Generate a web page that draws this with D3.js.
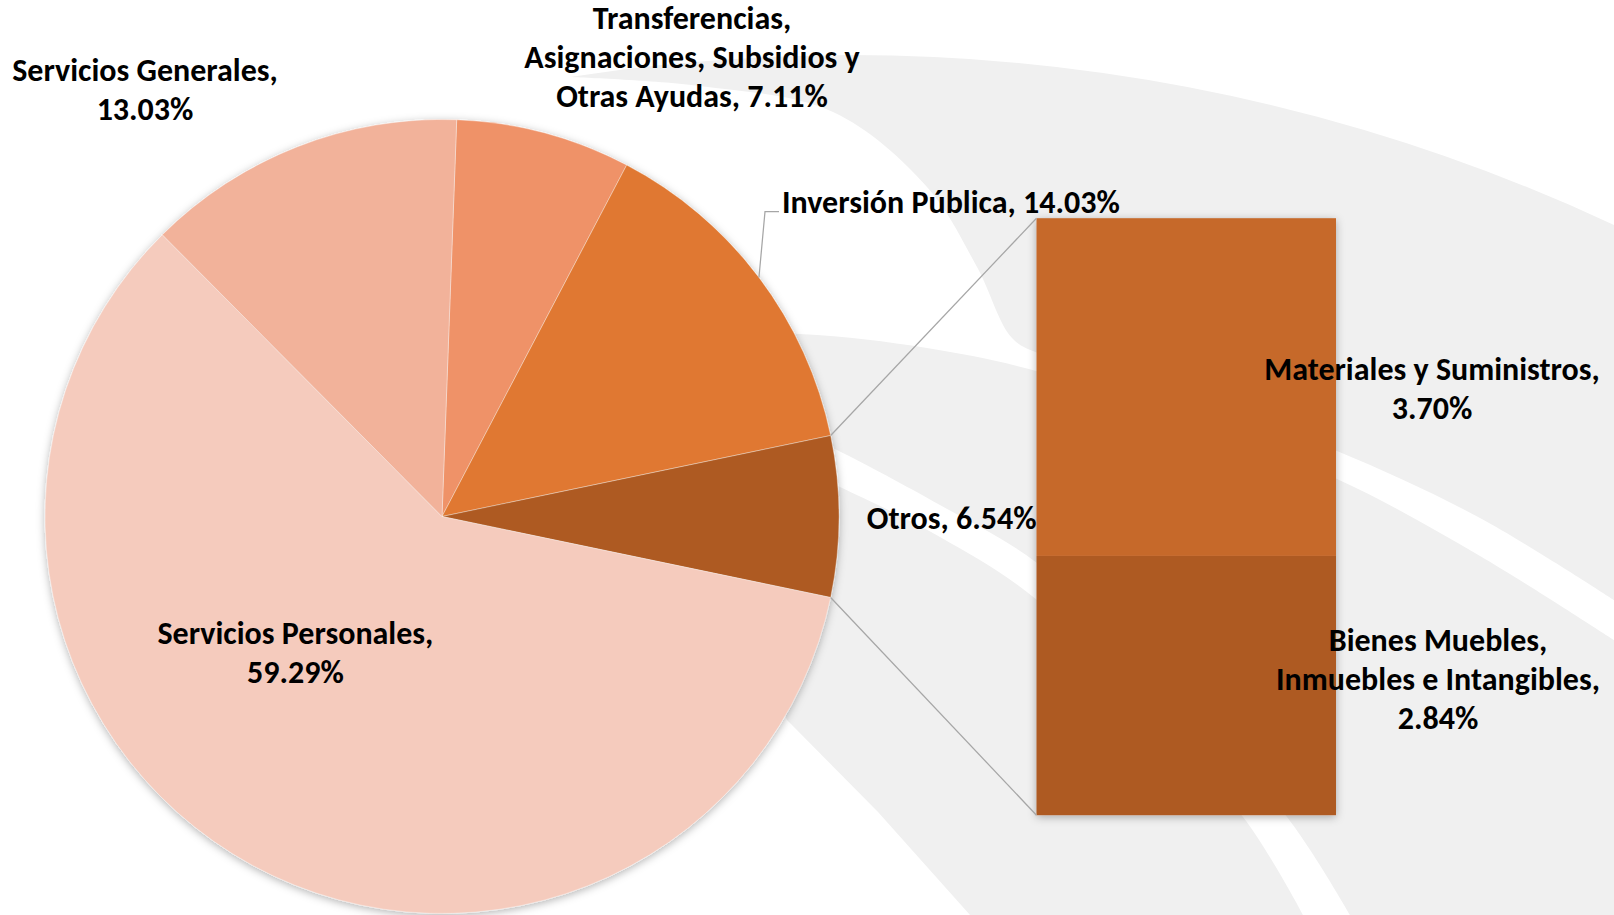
<!DOCTYPE html>
<html>
<head>
<meta charset="utf-8">
<script src="https://cdn.jsdelivr.net/npm/d3@7/dist/d3.min.js"></script>
<style>
    body { margin: 0; background: #fff; }
    .label { font-family: Calibri, Carlito, Lato, sans-serif; font-weight: bold; font-size: 32px; fill: #000; }
</style>
</head>
<body>
<div id="chart-area"></div>
<script>
// pie slices, clockwise from the top; "Otros" is broken down in the bar
var pieCategories = ["Transferencias, Asignaciones, Subsidios y Otras Ayudas", "Inversión Pública", "Otros",
    "Servicios Personales", "Servicios Generales"];
var pieValues = [7.11, 14.03, 6.54, 59.29, 13.03];
var pieColors = ["#EF9268", "#E07830", "#AE5A21", "#F5CBBD", "#F2B29A"];

// bar of "Otros", bottom to top
var barCategories = ["Bienes Muebles, Inmuebles e Intangibles", "Materiales y Suministros"];
var barValues = [2.84, 3.70];
var barColors = ["#AE5A21", "#C6692A"];

var width = 1614, height = 915;

// layout of the two plots and their labels
var pieCenter = {x: 442, y: 516.5}, pieRadius = 397;
var barBox = {x0: 1036.5, x1: 1336, top: 218.2, bottom: 815.2};
var lineHeight = 39;
var pieLabelPos = [
    {x: 692, y: 18, anchor: "middle", wrap: 360},
    {x: 782, y: 201.7, anchor: "start", wrap: 600},
    {x: 1036.5, y: 517.7, anchor: "end", wrap: 600},
    {x: 295.4, y: 633, anchor: "middle", wrap: 300},
    {x: 145, y: 70, anchor: "middle", wrap: 290}
];
var barLabelPos = [
    {x: 1438, y: 640.2, anchor: "middle", wrap: 345},
    {x: 1432, y: 368.5, anchor: "middle", wrap: 360}
];

var svg = d3.select("#chart-area").append("svg")
    .attr("width", width)
    .attr("height", height);

var defs = svg.append("defs");
defs.append("filter")
    .attr("id", "shadow")
    .attr("x", "-10%").attr("y", "-10%")
    .attr("width", "120%").attr("height", "120%")
    .append("feDropShadow")
    .attr("dx", 0).attr("dy", 2)
    .attr("stdDeviation", 4)
    .attr("flood-color", "#000")
    .attr("flood-opacity", 0.3);

// background swoosh of the slide
var bg = svg.append("g").attr("class", "background");
var curve = d3.line().curve(d3.curveCatmullRom.alpha(0.5));
function joined(a, b) {
    return curve(a) + "L" + curve(b).slice(1) + "Z";
}

bg.append("path")
    .attr("fill", "#F0F0F0")
    .attr("d", "M570,77 A1802,1802 0 0 1 1614,225 L1614,915 L970,915 " +
        "L878,812 L787,720 L700,500 L620,250 Z");

bg.append("path")
    .attr("fill", "#fff")
    .attr("d", joined(
        [[570, 77], [700, 86], [833, 112], [927, 187], [977, 267], [1012, 338], [1040, 354],
            [1200, 402], [1337, 451], [1480, 518], [1614, 600]],
        [[1614, 640], [1480, 556], [1337, 479], [1200, 428], [1040, 372], [927, 348], [800, 334],
            [600, 334], [480, 200], [480, 40]]));

bg.append("path")
    .attr("fill", "#fff")
    .attr("d", joined(
        [[790, 428], [837, 450], [940, 505], [1037, 563], [1160, 680], [1287, 817], [1350, 915]],
        [[1303, 915], [1243, 817], [1130, 700], [1037, 600], [940, 537], [840, 487], [790, 465]]));

// pie
var otrosShare = (pieValues[0] + pieValues[1] + pieValues[2] / 2) / d3.sum(pieValues);
var startAngle = Math.PI / 2 - otrosShare * 2 * Math.PI;

var pie = d3.pie()
    .sort(null)
    .startAngle(startAngle)
    .endAngle(startAngle + 2 * Math.PI);
var arcs = pie(pieValues);

var arc = d3.arc()
    .innerRadius(0)
    .outerRadius(pieRadius);

var pieGroup = svg.append("g")
    .attr("transform", "translate(" + pieCenter.x + "," + pieCenter.y + ")");

pieGroup.append("g")
    .attr("filter", "url(#shadow)")
    .selectAll("path")
    .data(arcs)
    .enter().append("path")
    .attr("d", arc)
    .attr("fill", function(d, i) { return pieColors[i]; })
    .attr("stroke", "#fff")
    .attr("stroke-opacity", 0.35)
    .attr("stroke-width", 1);

// bar
var y = d3.scaleLinear()
    .domain([0, d3.sum(barValues)])
    .range([barBox.bottom, barBox.top]);
var x = d3.scaleBand()
    .domain(["Otros"])
    .range([barBox.x0, barBox.x1])
    .padding(0);

var stacked = [];
var acc = 0;
barValues.forEach(function(v, i) {
    stacked.push({y0: acc, y1: acc + v, i: i});
    acc += v;
});

svg.append("g")
    .attr("filter", "url(#shadow)")
    .selectAll("rect")
    .data(stacked)
    .enter().append("rect")
    .attr("x", x("Otros"))
    .attr("width", x.bandwidth())
    .attr("y", function(d) { return y(d.y1); })
    .attr("height", function(d) { return y(d.y0) - y(d.y1); })
    .attr("fill", function(d) { return barColors[d.i]; });

// series lines from the "Otros" slice to the bar
var otros = arcs[2];
var pTop = d3.pointRadial(otros.startAngle, pieRadius);
var pBottom = d3.pointRadial(otros.endAngle, pieRadius);
var connectors = [
    [[pieCenter.x + pTop[0], pieCenter.y + pTop[1]], [x("Otros"), y(d3.sum(barValues))]],
    [[pieCenter.x + pBottom[0], pieCenter.y + pBottom[1]], [x("Otros"), y(0)]]
];
svg.selectAll(".connector")
    .data(connectors)
    .enter().append("path")
    .attr("class", "connector")
    .attr("d", d3.line())
    .attr("fill", "none")
    .attr("stroke", "#A6A6A6")
    .attr("stroke-width", 1.25);

// leader line for Inversión Pública
var inv = arcs[1];
var pInv = d3.pointRadial((inv.startAngle + inv.endAngle) / 2, pieRadius);
var invPos = pieLabelPos[1];
svg.append("path")
    .attr("d", d3.line()([
        [pieCenter.x + pInv[0], pieCenter.y + pInv[1]],
        [invPos.x - 17, invPos.y + 10],
        [invPos.x - 3, invPos.y + 10]
    ]))
    .attr("fill", "none")
    .attr("stroke", "#A6A6A6")
    .attr("stroke-width", 1.25);

// data labels
function addLabel(text, pos) {
    var t = svg.append("text")
        .attr("class", "label")
        .attr("text-anchor", pos.anchor);
    var words = text.split(" ");
    var lines = [];
    var line = [];
    var probe = t.append("tspan");
    words.forEach(function(w) {
        line.push(w);
        probe.text(line.join(" "));
        if (probe.node().getComputedTextLength() > pos.wrap && line.length > 1) {
            line.pop();
            lines.push(line.join(" "));
            line = [w];
        }
    });
    lines.push(line.join(" "));
    probe.remove();

    t.selectAll("tspan")
        .data(lines)
        .enter().append("tspan")
        .attr("x", pos.x)
        .attr("y", function(d, i) { return pos.y + i * lineHeight; })
        .attr("dy", "0.35em")
        .text(function(d) { return d; });
}

function fmt(v) { return v.toFixed(2) + "%"; }

pieCategories.forEach(function(c, i) {
    addLabel(c + ", " + fmt(pieValues[i]), pieLabelPos[i]);
});
barCategories.forEach(function(c, i) {
    addLabel(c + ", " + fmt(barValues[i]), barLabelPos[i]);
});
</script>
</body>
</html>
